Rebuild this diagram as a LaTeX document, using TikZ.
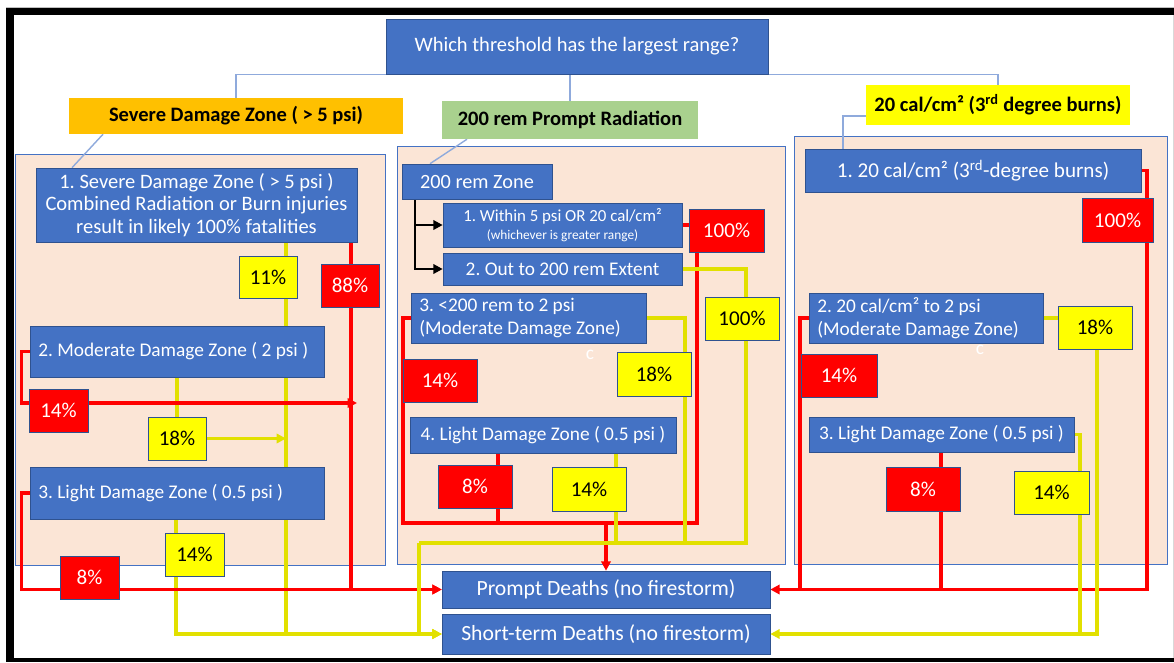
\documentclass[tikz,border=0pt]{standalone}
\usepackage{fontspec}
\setmainfont{Carlito}
\usepackage{tikz}
\usetikzlibrary{arrows.meta}

\definecolor{boxblue}{HTML}{4472C4}
\definecolor{edgeblue}{HTML}{2F528F}
\definecolor{linkblue}{HTML}{8FAADC}
\definecolor{peach}{HTML}{FBE5D6}
\definecolor{hdrorange}{HTML}{FFC000}
\definecolor{hdrgreen}{HTML}{A9D18E}
\definecolor{hdryellow}{HTML}{FFFF00}
\definecolor{pctred}{HTML}{FF0000}
\definecolor{wireyellow}{HTML}{E2E000}

\pgfdeclarelayer{back}
\pgfdeclarelayer{wires}
\pgfsetlayers{back,wires,main}

\begin{document}
\frenchspacing
\begin{tikzpicture}[
            x = 0.03cm, y = -0.03cm, % one unit is one pixel of the sketch
            > = {Triangle[length=8pt, width=8pt]}, % arrow head style
            line join = miter,
            wh/.style 2 args = {minimum width = #1*0.03cm, minimum height = #2*0.03cm},
            box/.style = {draw = edgeblue, fill = boxblue, text = white, line width = 0.5pt,
                inner sep = 0pt, font = \fontsize{16.5}{20}\selectfont},
            lbox/.style = {box, align = flush left, inner xsep = 0.25cm},
            hdr/.style = {inner sep = 0pt, font = \bfseries\fontsize{17.5}{21}\selectfont},
            pct/.style = {draw = edgeblue, line width = 0.5pt, inner sep = 0pt,
                font = \fontsize{18}{21}\selectfont},
            pr/.style = {pct, fill = pctred, text = white, wh = {74}{43}},
            py/.style = {pct, fill = hdryellow, text = black, wh = {74}{43}},
            link/.style = {draw = linkblue, line width = 1.2pt},
            redwire/.style = {draw = pctred, line width = 2.8pt},
            yelwire/.style = {draw = wireyellow, line width = 2.8pt}
        ]

        \useasboundingbox (0,0) rectangle (1174,662);

        % frame and zone panels
        \begin{pgfonlayer}{back}
            \fill[white] (0,0) rectangle (1174,662);
            \draw[black!25] (6,7) -- (1174,7);
            \draw[black!15] (1173,15) -- (1173,658);
            \fill[black] (6,8) rectangle (1174,15);
            \fill[black] (6,8) rectangle (14,662);
            \fill[black] (6,658) rectangle (1174,662);
            \filldraw[fill = peach, draw = boxblue, line width = 0.6pt] (15,154) rectangle (385,565);
            \filldraw[fill = peach, draw = boxblue, line width = 0.6pt] (397,146) rectangle (785,564);
            \filldraw[fill = peach, draw = boxblue, line width = 0.6pt] (794,136) rectangle (1167,564);
        \end{pgfonlayer}

        % question and the three thresholds
        \node[box, wh = {382}{55}, font = \fontsize{17.5}{21}\selectfont] (Q) at (577,46.5) {Which threshold has the largest range?};
        \node[hdr, fill = hdrorange, wh = {334}{36}] (hSev) at (236,116) {Severe Damage Zone ( > 5 psi)};
        \node[hdr, fill = hdrgreen, wh = {256}{38}] (hRem) at (570,120) {200 rem Prompt Radiation};
        \node[hdr, fill = hdryellow, wh = {264}{40}] (hCal) at (998,105) {20 cal/cm² (3\textsuperscript{rd} degree burns)};

        % severe damage zone
        \node[box, wh = {321}{74}, align = center, font = \fontsize{17.5}{19.2}\selectfont] (L1) at (196.5,205)
            {1. Severe Damage Zone ( > 5 psi )\\Combined Radiation or Burn injuries\\result in likely 100\% fatalities};
        \node[lbox, text width = 8.32cm, minimum height = 51*0.03cm] (L2) at (177,351.5) {2. Moderate Damage Zone ( 2 psi )};
        \node[lbox, text width = 8.32cm, minimum height = 52*0.03cm] (L3) at (177,493) {3. Light Damage Zone ( 0.5 psi )};
        \node[py, wh = {58}{42}] (y11) at (268,277) {11\%};
        \node[pr, wh = {58}{43}] (r88) at (350,285.5) {88\%};
        \node[pr, wh = {59}{43}] (r14) at (58.5,410.5) {14\%};
        \node[py, wh = {58}{43}] (y18) at (177,438.5) {18\%};
        \node[py, wh = {59}{43}] (y14) at (194.5,554.5) {14\%};
        \node[pr, wh = {59}{43}] (r8) at (89.5,577.5) {8\%};
        \coordinate (e14) at (357,403);

        % 200 rem zone
        \node[box, wh = {150}{35}, font = \fontsize{17.3}{20}\selectfont] (Z) at (477,181.5) {200 rem Zone};
        \node[box, wh = {239}{44}, align = center, font = \fontsize{14.4}{15.4}\selectfont] (M1) at (562.5,225)
            {1. Within 5 psi OR 20 cal/cm²\\{\fontsize{11.4}{13}\selectfont (whichever is greater range)}};
        \node[box, wh = {239}{32}] (M2) at (562.5,269) {2. Out to 200 rem Extent};
        \node[lbox, text width = 6.55cm, minimum height = 50*0.03cm] (M3) at (528.5,318) {3. <200 rem to 2 psi\\(Moderate Damage Zone)};
        \node[box, wh = {266}{36}] (M4) at (543,435) {4. Light Damage Zone ( 0.5 psi )};
        \node[pr, wh = {75}{43}] (r100m) at (726.5,230.5) {100\%};
        \node[py] (y100m) at (742,318.5) {100\%};
        \node[pr] (r14m) at (440,380.5) {14\%};
        \node[py, wh = {74}{44}] (y18m) at (654,374) {18\%};
        \node[pr] (r8m) at (475,486.5) {8\%};
        \node[py, wh = {74}{44}] (y14m) at (589,489) {14\%};
        \node[text = white, font = \fontsize{16.5}{20}\selectfont] (cm) at (590,355) {c};
        \coordinate (jrl) at (403,523);
        \coordinate (jrr) at (697,523);
        \coordinate (jr) at (606,523);
        \coordinate (jyl) at (419,543);
        \coordinate (jyr) at (746,543);

        % 20 cal/cm2 zone
        \node[box, wh = {336}{43}, font = \fontsize{18}{21}\selectfont] (R1) at (973,170.5) {1. 20 cal/cm² (3\textsuperscript{rd}-degree burns)};
        \node[lbox, text width = 6.52cm, minimum height = 50*0.03cm] (R2) at (926,318) {2. 20 cal/cm² to 2 psi\\(Moderate Damage Zone)};
        \node[box, wh = {265}{35}] (R3) at (941.5,434.5) {3. Light Damage Zone ( 0.5 psi )};
        \node[pr, wh = {71}{44}] (r100r) at (1117.5,220) {100\%};
        \node[py] (y18r) at (1095,327.5) {18\%};
        \node[pr, wh = {76}{43}] (r14r) at (839,375.5) {14\%};
        \node[pr, wh = {74}{44}] (r8r) at (923,489) {8\%};
        \node[py, wh = {75}{43}] (y14r) at (1051.5,492.5) {14\%};
        \node[text = white, font = \fontsize{16.5}{20}\selectfont] (cr) at (980,350) {c};

        % outcomes
        \node[box, wh = {328}{37}, font = \fontsize{18.5}{22}\selectfont] (PD) at (606,589.5) {Prompt Deaths (no firestorm)};
        \node[box, wh = {328}{40}, font = \fontsize{18.5}{22}\selectfont] (SD) at (606,634) {Short-term Deaths (no firestorm)};

        \begin{pgfonlayer}{wires}
            % tree links
            \path[link] (Q.south) -| (hSev.north);
            \path[link] (Q.south) -| (hCal.north);
            \path[link] (hRem.north |- Q.south) -- (hRem.north);
            \path[link] (hSev.south -| 103,0) -- (L1.north -| 72,0);
            \path[link] (hRem.south -| 467,0) -- (Z.north -| 430,0);
            \path[link] (hCal.west |- 0,116) -| (R1.north -| 843,0);

            % severe damage zone
            \path[yelwire, ->] (L1.south -| 286,0) |- (SD.west);
            \path[yelwire, ->] (L3.south -| 176,0) |- (SD.west);
            \path[yelwire] (L2.south -| y18) -- (y18);
            \path[yelwire, ->] (y18.east) -- (y18.east -| 286,0);
            \path[redwire, ->] (L1.south -| 351,0) |- (PD.west);
            \path[redwire, ->] (L3.west) -- ++(-8,0) |- (PD.west);
            \path[redwire, ->] (L2.west) -- ++(-8,0) |- (e14);

            % 200 rem zone
            \path[draw = black, line width = 2.4pt, ->] (Z.south -| 415,0) |- (M1.west);
            \path[draw = black, line width = 2.4pt, ->] (Z.south -| 415,0) |- (M2.west);
            \path[redwire] (M1.east) -- (M1.east -| r100m.west);
            \path[redwire] (M3.west) -| (jrl) -| (r100m.south -| jrr);
            \path[redwire] (M4.south -| 498,0) -- (jrl -| 498,0);
            \path[redwire, ->] (jr) -- (PD.north);
            \path[yelwire] (M2.east) -| (jyr) -- (jyl);
            \path[yelwire] (M3.east) -| (jyl -| 685,0);
            \path[yelwire] (M4.south -| 616,0) -- (jyl -| 616,0);
            \path[yelwire, ->] (jyl) |- (SD.west);

            % 20 cal/cm2 zone
            \path[redwire, ->] (R1.east) -| (PD.east -| 1147,0) -- (PD.east);
            \path[redwire] (R2.west) -| (PD.east -| 800,0);
            \path[redwire] (R3.south -| 941,0) -- (PD.east -| 941,0);
            \path[yelwire] (R2.east) -- (R2.east -| y18r.west);
            \path[yelwire, ->] (y18r.south -| 1097,0) |- (SD.east);
            \path[yelwire] (R3.east) -| (SD.east -| 1080,0);
        \end{pgfonlayer}

  \end{tikzpicture}
\end{document}
